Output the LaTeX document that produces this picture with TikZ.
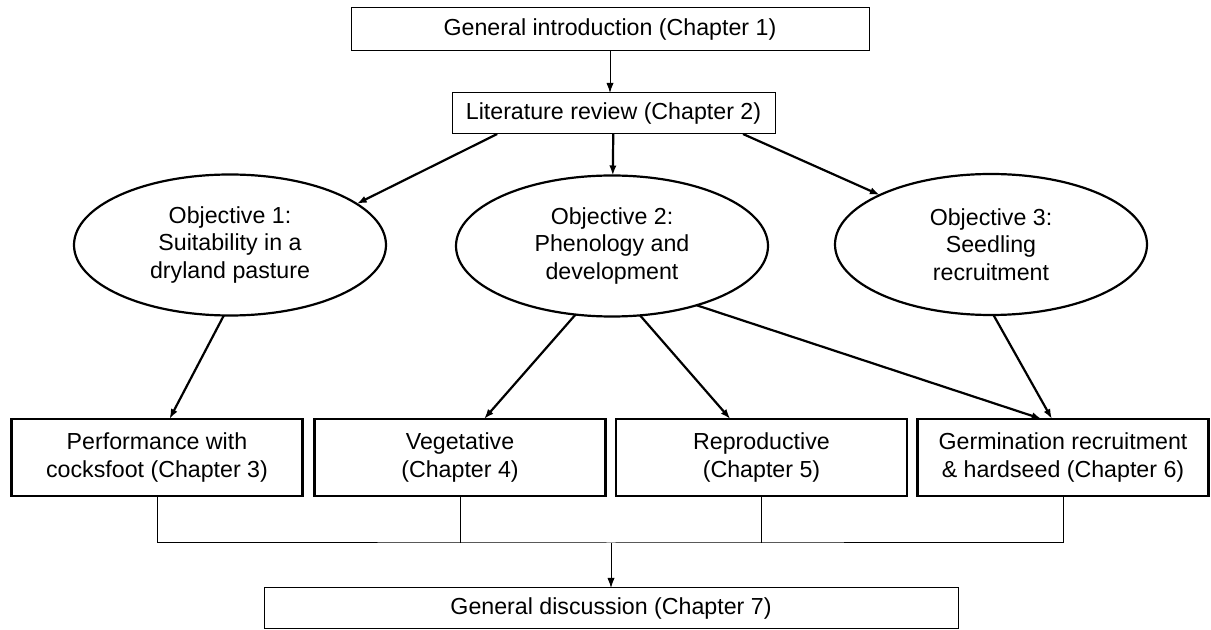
\documentclass[tikz,border=0pt]{standalone}
\usepackage{fontspec}
\setmainfont{Liberation Sans}
\usetikzlibrary{shapes.geometric,arrows.meta}

\begin{document}
\begin{tikzpicture}[x=0.5pt,y=-0.5pt,
    font=\fontsize{11.6}{13.8}\selectfont,
    chap/.style={draw,line width=0.5pt,inner sep=0pt,outer sep=0pt,align=center},
    part/.style={draw,line width=1.1pt,inner sep=0pt,outer sep=0pt,align=center,
      minimum width=145.5pt,minimum height=38.5pt},
    goal/.style={ellipse,draw,line width=1.1pt,inner sep=0pt,outer sep=0pt,align=center,
      minimum width=156pt,minimum height=70.5pt},
    link/.style={line width=0.5pt},
    flow/.style={line width=1.1pt},
    >={Latex[length=5pt,width=3.6pt]}]
      \useasboundingbox (0,0) rectangle (1211,630);
      \draw
        (610,29.5) node[chap,minimum width=259pt,minimum height=21.5pt] (intro){General introduction (Chapter 1)}
        (613.5,113.5) node[chap,minimum width=161.5pt,minimum height=20.5pt] (review){Literature review (Chapter 2)}
        (230,245) node[goal] (obj1){Objective 1:\\Suitability in a\\dryland pasture}
        (612,246) node[goal] (obj2){Objective 2:\\Phenology and\\development}
        (991,244.5) node[goal] (obj3){Objective 3:\\Seedling\\recruitment}
        (157,457.5) node[part] (ch3){Performance with\\cocksfoot (Chapter 3)}
        (460,457.5) node[part] (ch4){Vegetative\\(Chapter 4)}
        (761.5,457.5) node[part] (ch5){Reproductive\\(Chapter 5)}
        (1063,457.5) node[part] (ch6){Germination recruitment\\\& hardseed (Chapter 6)}
        (611,608.5) node[chap,minimum width=347pt,minimum height=20.5pt] (disc){General discussion (Chapter 7)};
      \coordinate (join) at (611,543);
      \draw[->,link] (intro) to (intro |- review.north);
      \begin{scope}[->,flow]
        \draw (review.190) to (obj1.18);
        \draw (review) to (obj2);
        \draw (review.-9) to (obj3.156);
        \draw (obj1.-95) to (ch3.72);
        \draw (obj2.-118) to (ch4.58);
        \draw (obj2.-68) to (ch5.129);
        \draw (obj2.-35.5) to (ch6.119);
        \draw (obj3.-88) to (ch6.106);
      \end{scope}
      \begin{scope}[link]
        \draw (ch3.south) |- (join) -| (ch6.south);
        \draw (ch4.south) to (ch4.south |- join);
        \draw (ch5.south) to (ch5.south |- join);
        \draw[->] (join) to (disc);
      \end{scope}
    \end{tikzpicture}
\end{document}
